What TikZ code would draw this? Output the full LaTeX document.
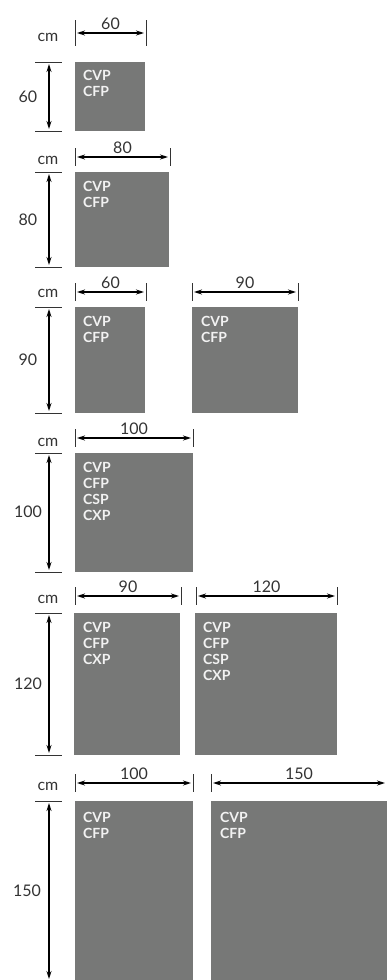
\documentclass[tikz,border=0pt]{standalone}
\usepackage{fontspec}
\setmainfont{Lato}
\usetikzlibrary{arrows.meta}
\definecolor{panel}{HTML}{777877}
\definecolor{ink}{HTML}{333333}
\definecolor{paper}{HTML}{F2F2F2}
\begin{document}
\begin{tikzpicture}[x=1pt,y=-1pt,
  box/.style={fill=panel,draw=none,inner sep=0,outer sep=0,anchor=north west},
  lbl/.style={text=ink,font=\fontsize{16}{16}\selectfont,inner sep=0},
  inbox/.style={text=paper,font=\bfseries\fontsize{14}{14}\selectfont,anchor=base west,inner sep=0},
  dim/.style={{Stealth[length=8pt,width=5pt]}-{Stealth[length=8pt,width=5pt]},line width=1.2pt,black,shorten <=2pt,shorten >=2pt},
  tick/.style={line width=0.9pt,ink},
  ext/.style={line width=1pt,ink}]
\useasboundingbox (0,0) rectangle (387,980);
\newcommand\hdim[6]{%
  \coordinate (#1l) at (#2,#4);
  \coordinate (#1r) at (#3,#4);
  \draw[tick] ([yshift=#5pt]#1l) -- ([yshift=-#5pt]#1l);
  \draw[tick] ([yshift=#5pt]#1r) -- ([yshift=-#5pt]#1r);
  \draw[dim] (#1l) -- (#1r) node[lbl,midway,anchor=base,yshift=4pt] (#1n) {#6};
}
\newcommand\vdim[5]{%
  \coordinate (#1t) at (49,#2);
  \coordinate (#1b) at (49,#3);
  \draw[ext] (35,#2) -- (62,#2);
  \draw[ext] (35,#3) -- (62,#3);
  \draw[dim] (#1t) -- (#1b);
  \node[lbl] (#1n) at (28,#5) {#4};
}
\newcommand\cm[2]{\node[lbl,anchor=base] (#1) at (48,#2) {cm};}

% ---- 60
\cm{cm1}{41}
\hdim{h1}{75}{146}{33}{13}{60}
\vdim{v1}{62}{131}{60}{96.5}
\node[box,minimum width=70pt,minimum height=69pt] (b1) at (75,62) {};
\node[inbox] (b1a) at (83,80) {CVP};
\node[inbox] (b1b) at (83,96) {CFP};

% ---- 80
\cm{cm2}{164}
\hdim{h2}{75}{170}{157}{9}{80}
\vdim{v2}{172}{267}{80}{219.5}
\node[box,minimum width=94pt,minimum height=95pt] (b2) at (75,172) {};
\node[inbox] (b2a) at (83,191.5) {CVP};
\node[inbox] (b2b) at (83,207.5) {CFP};

% ---- 90
\cm{cm3}{297}
\hdim{h3}{75}{146}{292}{9}{60}
\hdim{h4}{192}{298}{292}{9}{90}
\vdim{v3}{307}{413}{90}{360}
\node[box,minimum width=70pt,minimum height=106pt] (b3) at (75,307) {};
\node[inbox] (b3a) at (83,326) {CVP};
\node[inbox] (b3b) at (83,342) {CFP};
\node[box,minimum width=106pt,minimum height=106pt] (b4) at (192,307) {};
\node[inbox] (b4a) at (201,326) {CVP};
\node[inbox] (b4b) at (201,342) {CFP};

% ---- 100
\cm{cm4}{446}
\hdim{h5}{75}{193}{438}{9}{100}
\vdim{v4}{453}{572}{100}{512}
\node[box,minimum width=118pt,minimum height=119pt] (b5) at (75,453) {};
\node[inbox] (b5a) at (83,472.5) {CVP};
\node[inbox] (b5b) at (83,488.5) {CFP};
\node[inbox] (b5c) at (83,504.5) {CSP};
\node[inbox] (b5d) at (83,520.5) {CXP};

% ---- 120
\cm{cm5}{603}
\hdim{h6}{75}{181}{596}{9}{90}
\hdim{h7}{196}{337}{596}{9}{120}
\vdim{v5}{613}{755}{120}{684}
\node[box,minimum width=106pt,minimum height=142pt] (b6) at (74,613) {};
\node[inbox] (b6a) at (83,632.5) {CVP};
\node[inbox] (b6b) at (83,648.5) {CFP};
\node[inbox] (b6c) at (83,664.5) {CXP};
\node[box,minimum width=142pt,minimum height=142pt] (b7) at (195,613) {};
\node[inbox] (b7a) at (203,632.5) {CVP};
\node[inbox] (b7b) at (203,648.5) {CFP};
\node[inbox] (b7c) at (203,664.5) {CSP};
\node[inbox] (b7d) at (203,680.5) {CXP};

% ---- 150
\cm{cm6}{790}
\hdim{h8}{75}{193}{783}{9}{100}
\coordinate (h9l) at (211,783);
\coordinate (h9r) at (387,783);
\draw[tick] ([yshift=9pt]h9l) -- ([yshift=-9pt]h9l);
\draw[dim] (h9l) -- (h9r) node[lbl,midway,anchor=base,yshift=4pt] (h9n) {150};
\coordinate (v6t) at (49,801);
\coordinate (v6b) at (49,981);
\draw[ext] (35,801) -- (62,801);
\draw[dim] (v6t) -- (v6b);
\node[lbl] (v6n) at (27,891) {150};
\node[box,minimum width=118pt,minimum height=179pt] (b8) at (75,801) {};
\node[inbox] (b8a) at (83,822) {CVP};
\node[inbox] (b8b) at (83,838) {CFP};
\node[box,minimum width=176pt,minimum height=179pt] (b9) at (211,801) {};
\node[inbox] (b9a) at (220,822) {CVP};
\node[inbox] (b9b) at (220,838) {CFP};
\end{tikzpicture}
\end{document}
